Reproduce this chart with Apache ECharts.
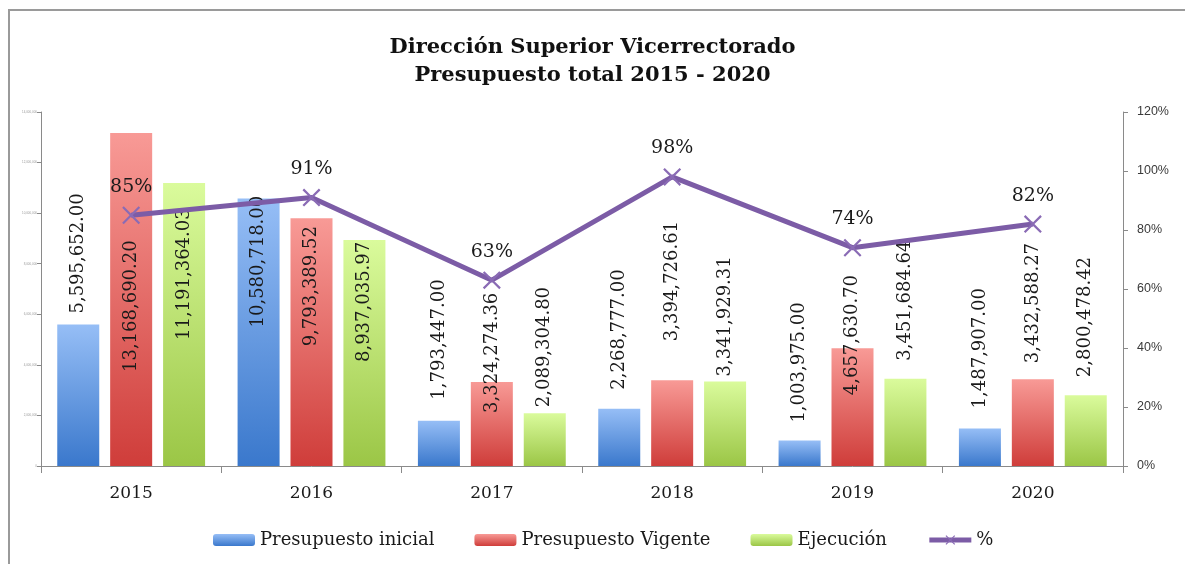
<!DOCTYPE html>
<html>
<head>
<meta charset="utf-8">
<script src="https://cdn.jsdelivr.net/npm/echarts@6/dist/echarts.min.js"></script>
<style>
html,body{margin:0;padding:0;background:#fff;}
#chart{width:1185px;height:564px;}
</style>
</head>
<body>
<div id="chart"></div>
<script>
// ---- data ----
const years = ['2015', '2016', '2017', '2018', '2019', '2020'];
const presupuestoInicial = [5595652.00, 10580718.00, 1793447.00, 2268777.00, 1003975.00, 1487907.00];
const presupuestoVigente = [13168690.20, 9793389.52, 3324274.36, 3394726.61, 4657630.70, 3432588.27];
const ejecucion = [11191364.03, 8937035.97, 2089304.80, 3341929.31, 3451684.64, 2800478.42];
const porcentaje = [0.85, 0.91, 0.63, 0.98, 0.74, 0.82];
const pctTicks = [0, 0.2, 0.4, 0.6, 0.8, 1.0, 1.2];

// ---- label layout (distance from bar top to start of rotated label) ----
const labelNudge = {
  inicial: [11, -129, 21, 19, 18, 20],
  vigente: [-239, -128, -31, 39, -47, 16],
  ejecucion: [-157, -122, 6, 5, 18, 18]
};

const SERIF = '"DejaVu Serif", serif';
const fmt = v => v.toLocaleString('en-US', {minimumFractionDigits: 2, maximumFractionDigits: 2});

function grad(top, bottom) {
  return new echarts.graphic.LinearGradient(0, 0, 0, 1, [
    {offset: 0, color: top}, {offset: 1, color: bottom}
  ]);
}

function barData(values, nudges) {
  return values.map((v, i) => ({
    value: v,
    label: {distance: nudges[i]}
  }));
}

const barLabel = {
  show: true,
  position: 'top',
  rotate: 90,
  align: 'left',
  verticalAlign: 'middle',
  fontFamily: SERIF,
  fontSize: 18,
  color: '#1a1a1a',
  formatter: p => fmt(p.value)
};

const LINE_COLOR = '#7c5ca6';
const xSym = 'path://M0,1.4L1.4,0L8,6.6L14.6,0L16,1.4L9.4,8L16,14.6L14.6,16L8,9.4L1.4,16L0,14.6L6.6,8Z';

const chart = echarts.init(document.getElementById('chart'), null, {renderer: 'canvas'});
chart.setOption({
  animation: false,
  backgroundColor: '#ffffff',
  graphic: [{
    type: 'rect',
    shape: {x: 9, y: 10, width: 1300, height: 700},
    style: {fill: 'none', stroke: '#9a9a9a', lineWidth: 2},
    z: -1
  }],
  title: {
    text: 'Dirección Superior Vicerrectorado\nPresupuesto total 2015 - 2020',
    left: 'center',
    top: 29,
    textStyle: {fontFamily: SERIF, fontWeight: 'bold', fontSize: 21, lineHeight: 28, color: '#111'}
  },
  legend: {
    left: 208,
    top: 526,
    itemWidth: 42,
    itemHeight: 12,
    itemGap: 40,
    textStyle: {fontFamily: SERIF, fontSize: 18, color: '#1a1a1a'},
    data: [
      {name: 'Presupuesto inicial'},
      {name: 'Presupuesto Vigente'},
      {name: 'Ejecución'},
      {name: '%', lineStyle: {width: 5, color: LINE_COLOR}, itemStyle: {color: '#8a6bb5'}}
    ]
  },
  grid: {left: 41, right: 62, top: 112, bottom: 98, containLabel: false},
  xAxis: {
    type: 'category',
    data: years,
    boundaryGap: true,
    axisLine: {lineStyle: {color: '#8a8a8a', width: 1}},
    axisTick: {show: true, length: 7, lineStyle: {color: '#8a8a8a'}},
    axisLabel: {fontFamily: SERIF, fontSize: 17, color: '#1a1a1a', margin: 19}
  },
  yAxis: [{
    type: 'value',
    min: 0,
    max: 14000000,
    interval: 2000000,
    splitLine: {show: false},
    axisLine: {show: true, lineStyle: {color: '#8a8a8a'}},
    axisTick: {show: true, length: 4, lineStyle: {color: '#8a8a8a'}},
    axisLabel: {fontSize: 3, color: '#9a9a9a', margin: 4, formatter: v => v.toLocaleString('en-US')}
  }, {
    type: 'value',
    min: pctTicks[0],
    max: pctTicks[pctTicks.length - 1],
    interval: 0.2,
    position: 'right',
    splitLine: {show: false},
    axisLine: {show: true, lineStyle: {color: '#8a8a8a'}},
    axisTick: {show: true, length: 5, lineStyle: {color: '#8a8a8a'}},
    axisLabel: {fontFamily: '"Liberation Sans", Arial, sans-serif', fontSize: 12.5, color: '#3a3a3a', margin: 14,
      formatter: v => Math.round(v * 100) + '%'}
  }],
  series: [{
    name: 'Presupuesto inicial',
    type: 'bar',
    barWidth: 42,
    barGap: '26%',
    itemStyle: {color: grad('#96bef6', '#3a78cc')},
    label: barLabel,
    data: barData(presupuestoInicial, labelNudge.inicial)
  }, {
    name: 'Presupuesto Vigente',
    type: 'bar',
    barWidth: 42,
    barGap: '26%',
    itemStyle: {color: grad('#f89a96', '#cf3d3a')},
    label: barLabel,
    data: barData(presupuestoVigente, labelNudge.vigente)
  }, {
    name: 'Ejecución',
    type: 'bar',
    barWidth: 42,
    barGap: '26%',
    itemStyle: {color: grad('#dafb9c', '#9bc646')},
    label: barLabel,
    data: barData(ejecucion, labelNudge.ejecucion)
  }, {
    name: '%',
    type: 'line',
    yAxisIndex: 1,
    z: 5,
    data: porcentaje,
    symbol: xSym,
    symbolSize: 18,
    lineStyle: {color: LINE_COLOR, width: 5},
    itemStyle: {color: '#8a6bb5'},
    label: {
      show: true,
      position: 'top',
      distance: 10,
      fontFamily: SERIF,
      fontSize: 19,
      color: '#1a1a1a',
      formatter: p => Math.round(p.value * 100) + '%'
    }
  }]
});
</script>
</body>
</html>
